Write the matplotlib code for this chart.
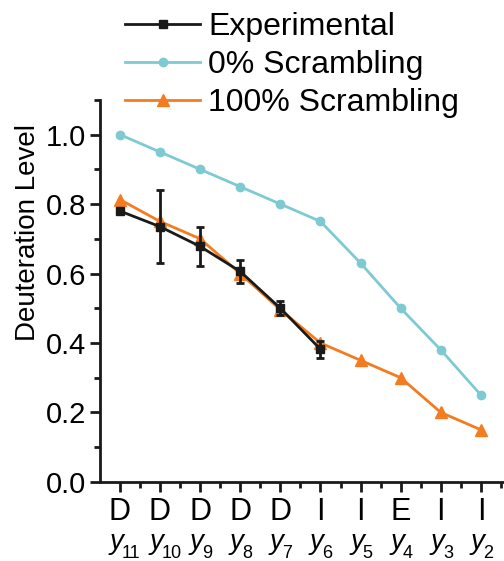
import matplotlib.pyplot as plt
from matplotlib.ticker import FixedLocator

plt.rcParams['font.family'] = ['Liberation Sans', 'DejaVu Sans']

residues = ['D', 'D', 'D', 'D', 'D', 'I', 'I', 'E', 'I', 'I']
ions = ['11', '10', '9', '8', '7', '6', '5', '4', '3', '2']

exp_vals = [0.78, 0.735, 0.678, 0.606, 0.50, 0.382]
exp_err = [0.01, 0.105, 0.055, 0.033, 0.02, 0.025]
zero_scr = [1.0, 0.95, 0.90, 0.85, 0.80, 0.75, 0.63, 0.50, 0.38, 0.25]
full_scr = [0.813, 0.75, 0.70, 0.60, 0.496, 0.40, 0.35, 0.30, 0.20, 0.15]

yticks = [0.0, 0.2, 0.4, 0.6, 0.8, 1.0]
yminor = [0.1, 0.3, 0.5, 0.7, 0.9, 1.1]

black = '#1a1a1a'
cyan = '#7ecad3'
orange = '#f47c20'

fig = plt.figure(figsize=(5.04, 5.61), dpi=100)
ax = fig.add_axes([0.198, 0.141, 0.80, 0.681])

x_all = list(range(len(residues)))
x_exp = x_all[:len(exp_vals)]

ax.plot(x_all, zero_scr, color=cyan, marker='o', ms=6, lw=2, label='0% Scrambling', zorder=2)
ax.plot(x_all, full_scr, color=orange, marker='^', ms=8, lw=2, label='100% Scrambling', zorder=3)
ax.errorbar(x_exp, exp_vals, yerr=exp_err, fmt='none', ecolor=black,
            elinewidth=2, capsize=3, capthick=2, zorder=4)
ax.plot(x_exp, exp_vals, color=black, marker='s', ms=6, lw=2, label='Experimental', zorder=5)

ax.set_ylim(0, 1.1)
ax.set_xlim(-0.5, 9.55)
ax.yaxis.set_major_locator(FixedLocator(yticks))
ax.yaxis.set_minor_locator(FixedLocator(yminor))
ax.set_yticklabels([f'{v:.1f}' for v in yticks])
ax.set_xticks(x_all)
ax.set_xticks([i + 0.5 for i in x_all], minor=True)
ax.set_xticklabels(residues, fontsize=22)
ax.tick_params(axis='y', labelsize=21, pad=3)
ax.tick_params(which='major', length=7, width=2, color=black)
ax.tick_params(which='minor', length=4, width=2, color=black)
ax.tick_params(axis='x', pad=4)
for s in ['top', 'right']:
    ax.spines[s].set_visible(False)
for s in ['left', 'bottom']:
    ax.spines[s].set_linewidth(2)
    ax.spines[s].set_color(black)

# ion labels (italic y with subscript) under the residue letters
for i, n in zip(x_all, ions):
    ax.annotate('y', xy=(i, 0), xycoords=('data', 'axes fraction'),
                xytext=(2.5, -48), textcoords='offset points', ha='right', va='baseline',
                fontsize=20, style='italic', annotation_clip=False)
    ax.annotate(n, xy=(i, 0), xycoords=('data', 'axes fraction'),
                xytext=(1.5, -55), textcoords='offset points', ha='left', va='baseline',
                fontsize=13, annotation_clip=False)

ax.set_ylabel('Deuteration Level', fontsize=20)
ax.yaxis.set_label_coords(-0.145, 0.654)

h, l = ax.get_legend_handles_labels()
order = [2, 0, 1]
fig.legend([h[i] for i in order], [l[i] for i in order], loc='upper left',
           bbox_to_anchor=(0.248, 0.978), frameon=False, fontsize=23,
           handlelength=2.35, handletextpad=0.25, labelspacing=0.25,
           borderpad=0, borderaxespad=0)

fig.savefig('out.png', dpi=100)
